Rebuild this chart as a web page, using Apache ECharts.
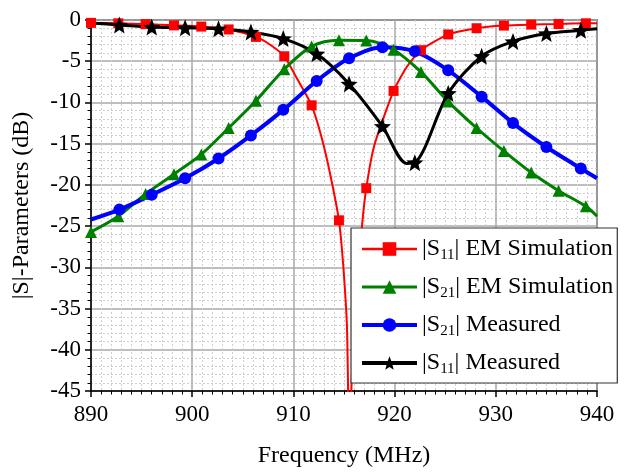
<!DOCTYPE html>
<html><head><meta charset="utf-8">
<script src="https://cdn.jsdelivr.net/npm/echarts@6/dist/echarts.min.js"></script>
<style>html,body{margin:0;padding:0;background:#fff}#c{width:627px;height:473px}</style>
</head><body><div id="c"></div>
<script>
// ---- data ----
const xTicks = [890, 900, 910, 920, 930, 940];
const yTicks = [0, -5, -10, -15, -20, -25, -30, -35, -40, -45];

const s11EmFreq = [890.0, 892.7, 895.4, 898.2, 900.9, 903.6, 906.3, 907.7, 909.1, 910.4, 911.8, 912.8, 913.6, 914.5, 914.95, 915.3, 915.55, 915.75, 916.1, 916.5, 916.8, 917.2, 918.0, 919.9, 921.2, 922.6, 925.3, 928.1, 930.8, 933.5, 936.2, 938.9, 940.0];
const s11EmDb   = [-0.35, -0.4, -0.5, -0.65, -0.8, -1.15, -2.05, -3.0, -4.4, -7.2, -10.35, -14.3, -18.5, -24.3, -30.2, -37.5, -55, -44, -36, -29.5, -24.7, -20.4, -15.2, -8.6, -5.7, -3.66, -1.75, -1.0, -0.68, -0.56, -0.48, -0.4, -0.38];
const s11EmMark = [1, 1, 1, 1, 1, 1, 1, 0, 1, 0, 1, 0, 0, 1, 0, 0, 0, 0, 0, 0, 0, 1, 0, 1, 0, 1, 1, 1, 1, 1, 1, 1, 0];

const s21EmFreq = [890.0, 892.7, 895.4, 898.2, 900.9, 903.6, 906.3, 909.1, 911.8, 914.5, 917.2, 919.9, 922.6, 925.3, 928.1, 930.8, 933.5, 936.2, 938.9, 940.0];
const s21EmDb   = [-25.7, -23.8, -21.1, -18.7, -16.3, -13.1, -9.8, -5.97, -3.2, -2.45, -2.5, -3.6, -6.3, -9.9, -13.1, -15.9, -18.5, -20.7, -22.6, -23.8];
const s21EmMark = [1, 1, 1, 1, 1, 1, 1, 1, 1, 1, 1, 1, 1, 1, 1, 1, 1, 1, 1, 0];

const s21MeasFreq = [890.0, 892.8, 896.0, 899.3, 902.6, 905.8, 909.0, 912.3, 915.5, 918.8, 922.0, 925.3, 928.6, 931.7, 935.0, 938.4, 940.0];
const s21MeasDb   = [-24.2, -23.0, -21.2, -19.2, -16.8, -14.0, -10.9, -7.4, -4.65, -3.3, -3.8, -6.1, -9.3, -12.5, -15.4, -18.0, -19.2];
const s21MeasMark = [0, 1, 1, 1, 1, 1, 1, 1, 1, 1, 1, 1, 1, 1, 1, 1, 0];

const s11MeasFreq = [890.0, 892.8, 896.0, 899.3, 902.6, 905.8, 909.0, 912.3, 915.5, 918.8, 921.2, 922.0, 925.3, 928.6, 931.7, 935.0, 938.4, 940.0];
const s11MeasDb   = [-0.35, -0.6, -0.85, -0.95, -1.07, -1.45, -2.25, -4.1, -7.75, -12.9, -17.4, -17.3, -8.9, -4.4, -2.6, -1.65, -1.25, -1.05];
const s11MeasMark = [0, 1, 1, 1, 1, 1, 1, 1, 1, 1, 0, 1, 1, 1, 1, 1, 1, 0];

const seriesNames = ['S11 EM', 'S21 EM', 'S21 Meas', 'S11 Meas'];
const legendSub = ['11', '21', '21', '11'];
const legendTail = ['EM Simulation', 'EM Simulation', 'Measured', 'Measured'];

// ---- build ----
function pts(f, d, m) {
  return f.map((x, i) => m[i] ? [x, d[i]] : { value: [x, d[i]], symbol: 'none' });
}
const FONT = '"Liberation Serif", "Times New Roman", serif';
const starPath = 'path://M0,-10 L2.6,-3.4 L9.51,-3.09 L4.1,1.3 L5.88,8.09 L0,4.3 L-5.88,8.09 L-4.1,1.3 L-9.51,-3.09 L-2.6,-3.4 Z';

function mk(name, f, d, m, color, width, symbol, size, smooth) {
  return {
    name: name, type: 'line', data: pts(f, d, m),
    smooth: smooth, clip: true,
    symbol: symbol, symbolSize: size, showAllSymbol: true,
    lineStyle: { color: color, width: width },
    itemStyle: { color: color, borderWidth: 0 },
    emphasis: { disabled: true }
  };
}

const legendWidths = [2.5, 3, 4, 4];
const legendColors = ['#ff0000', '#008000', '#0000ff', '#000000'];

const chart = echarts.init(document.getElementById('c'), null, { renderer: 'canvas' });
chart.setOption({
  animation: false,
  backgroundColor: '#fff',
  grid: { left: 91, top: 20, right: 30, bottom: 76, show: true, borderColor: '#333', borderWidth: 1.5, containLabel: false },
  xAxis: {
    type: 'value', min: xTicks[0], max: xTicks[xTicks.length - 1], interval: 10,
    name: 'Frequency (MHz)', nameLocation: 'middle', nameGap: 53,
    nameTextStyle: { fontFamily: FONT, fontSize: 24, color: '#000' },
    axisLine: { show: true, onZero: false, lineStyle: { color: '#000', width: 1.5 } },
    axisTick: { show: true, inside: false, length: 6, lineStyle: { color: '#000', width: 1.5 } },
    minorTick: { show: true, splitNumber: 10, length: 3.5, lineStyle: { color: '#000', width: 1 } },
    axisLabel: { fontFamily: FONT, fontSize: 23, color: '#000', margin: 12 },
    splitLine: { show: true, lineStyle: { color: '#a9a9a9', width: 1.5 } },
    minorSplitLine: { show: true, lineStyle: { color: '#cfcfcf', width: 1, type: [2, 2] } }
  },
  yAxis: {
    type: 'value', min: yTicks[yTicks.length - 1], max: yTicks[0], interval: 5,
    name: '|S|-Parameters (dB)', nameLocation: 'middle', nameGap: 57, nameRotate: 90,
    nameTextStyle: { fontFamily: FONT, fontSize: 24, color: '#000' },
    axisLine: { show: true, onZero: false, lineStyle: { color: '#000', width: 1.5 } },
    axisTick: { show: true, inside: false, length: 6, lineStyle: { color: '#000', width: 1.5 } },
    minorTick: { show: true, splitNumber: 5, length: 3.5, lineStyle: { color: '#000', width: 1 } },
    axisLabel: { fontFamily: FONT, fontSize: 23, color: '#000', margin: 10 },
    splitLine: { show: true, lineStyle: { color: '#a9a9a9', width: 1.5 } },
    minorSplitLine: { show: true, lineStyle: { color: '#cfcfcf', width: 1, type: [2, 2] } }
  },
  legend: {
    orient: 'vertical', left: 351, top: 228,
    backgroundColor: '#fff', borderColor: '#333', borderWidth: 1.2,
    padding: [7, 4, 6, 9],
    itemWidth: 55, itemHeight: 17, itemGap: 10,
    data: seriesNames.map((n, i) => ({ name: n, lineStyle: { width: legendWidths[i], color: legendColors[i] } })),
    formatter: function (name) {
      const i = seriesNames.indexOf(name);
      return '|S{s|' + legendSub[i] + '}| ' + legendTail[i];
    },
    textStyle: {
      fontFamily: FONT, fontSize: 24, color: '#000', lineHeight: 28,
      rich: { s: { fontFamily: FONT, fontSize: 15, color: '#000', padding: [12, 0, 0, 0], lineHeight: 28 } }
    }
  },
  series: [
    mk(seriesNames[0], s11EmFreq, s11EmDb, s11EmMark, '#ff0000', 2, 'rect', 10, 0.2),
    mk(seriesNames[1], s21EmFreq, s21EmDb, s21EmMark, '#008000', 3, 'triangle', 12, 0.3),
    mk(seriesNames[2], s21MeasFreq, s21MeasDb, s21MeasMark, '#0000ff', 4, 'circle', 12, 0.3),
    mk(seriesNames[3], s11MeasFreq, s11MeasDb, s11MeasMark, '#000000', 3, starPath, 17, 0.3)
  ]
});
</script>
</body></html>
